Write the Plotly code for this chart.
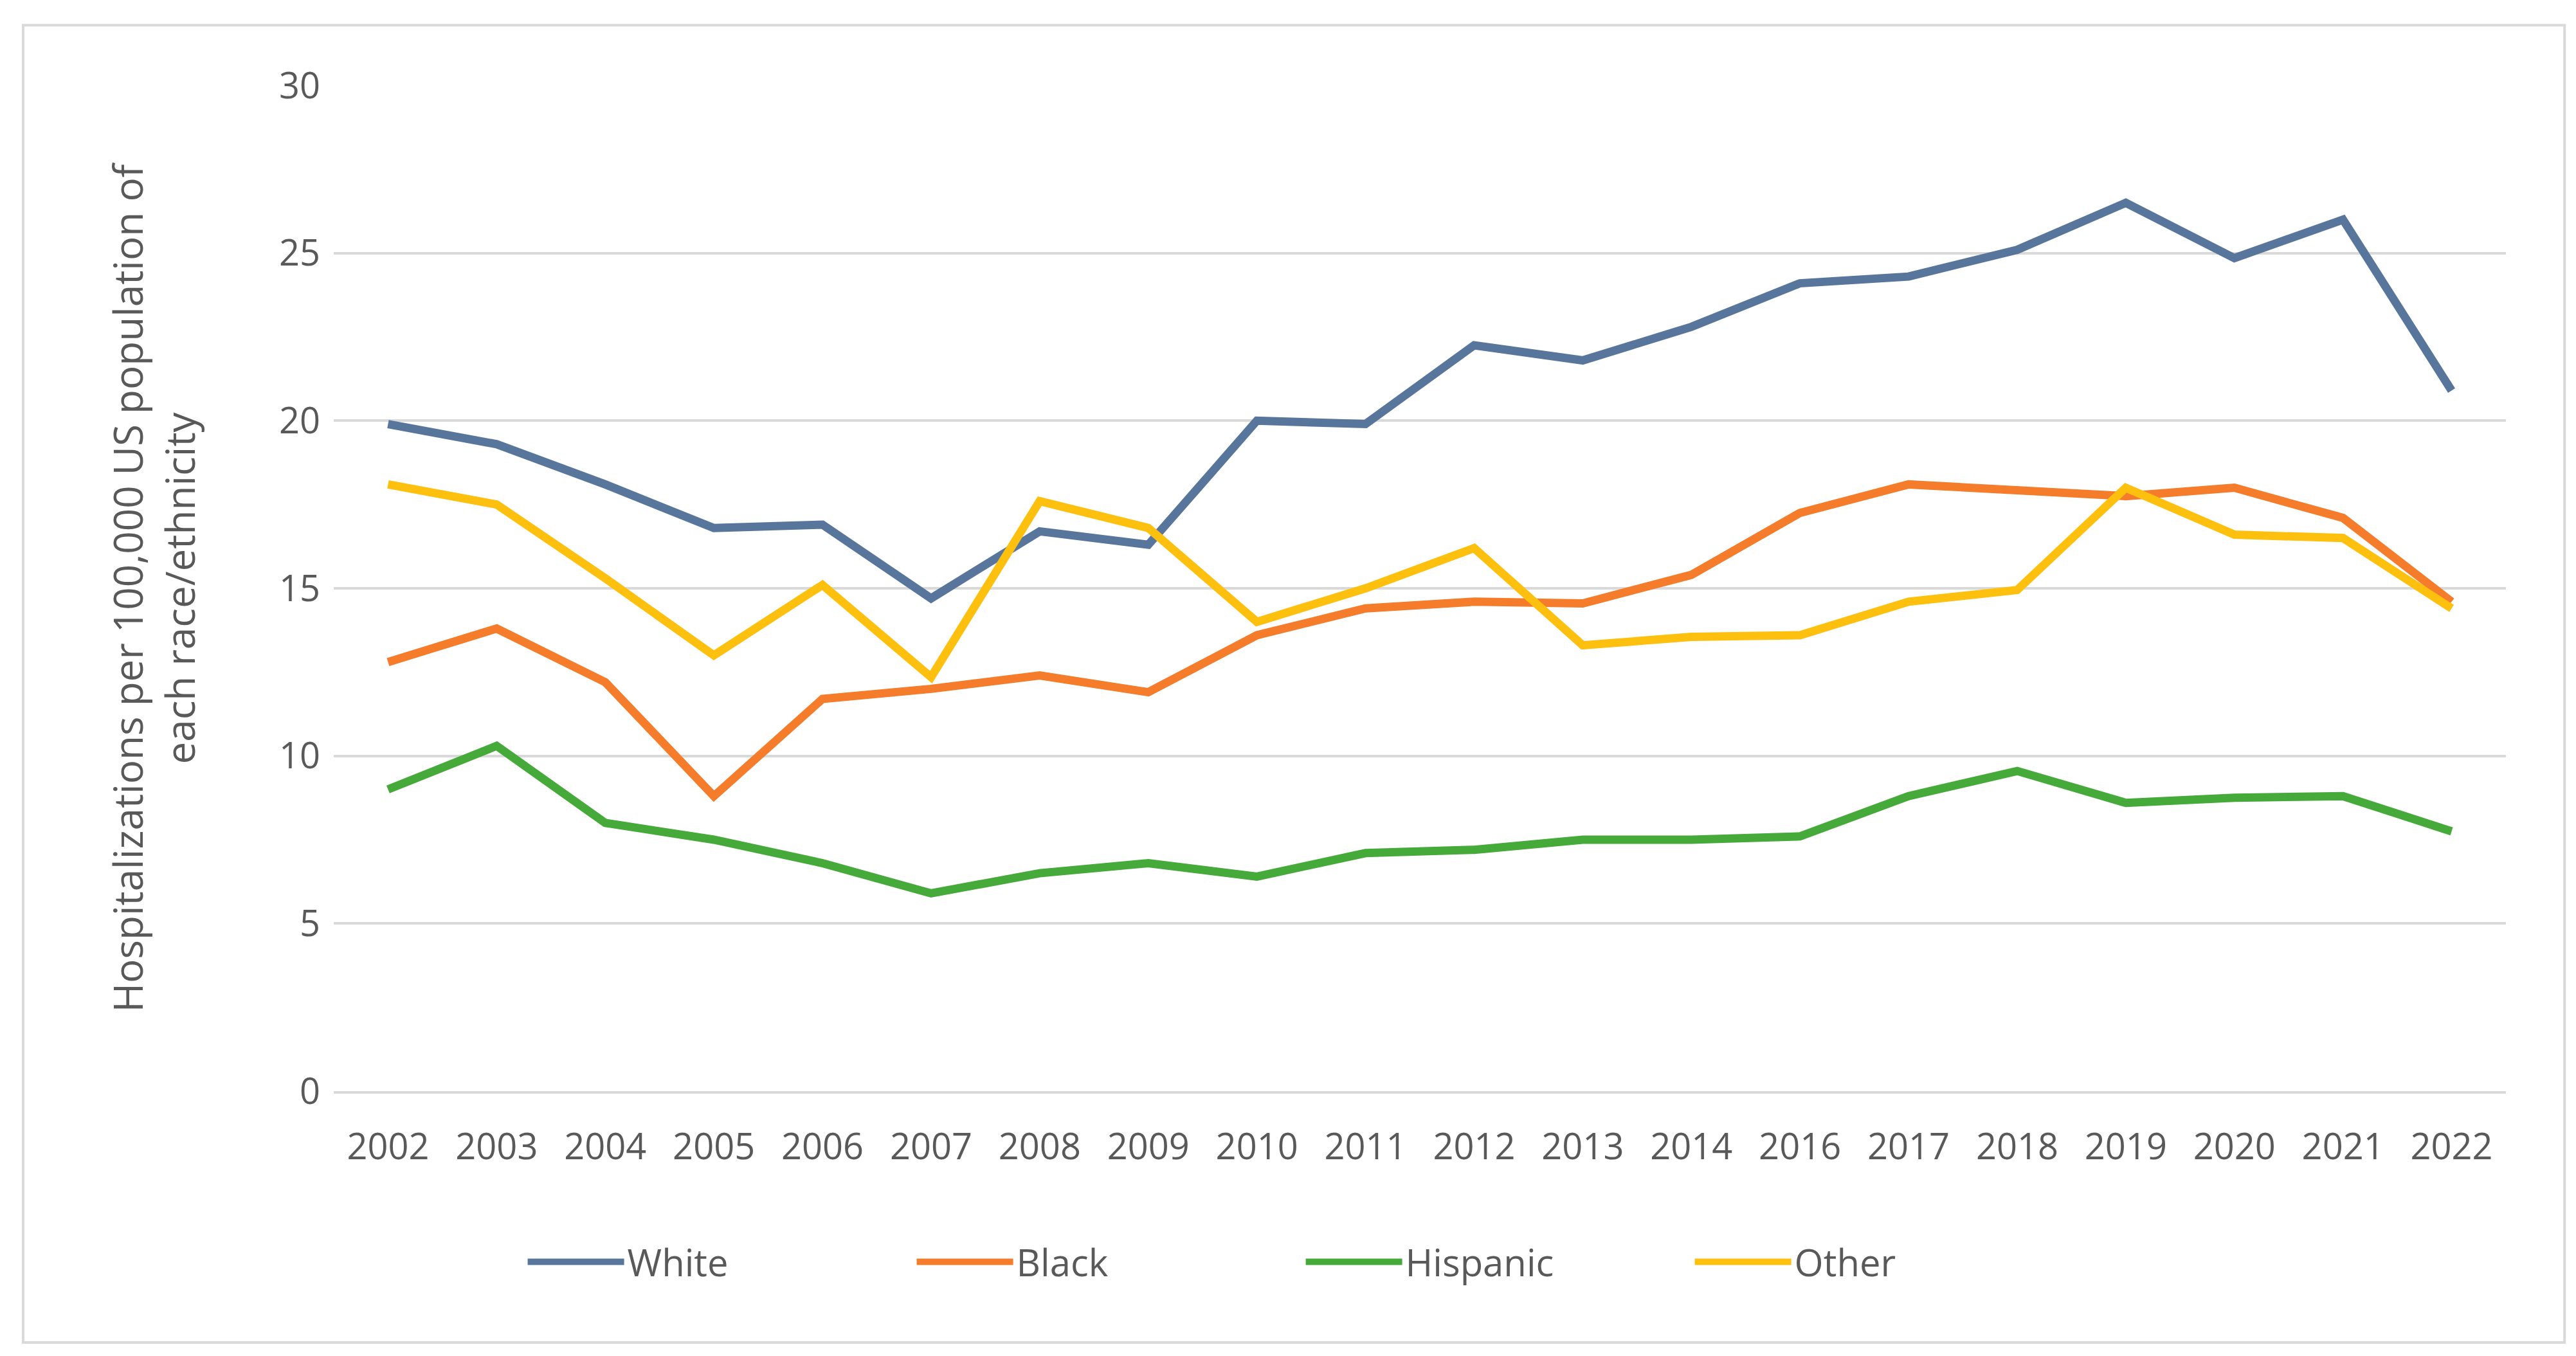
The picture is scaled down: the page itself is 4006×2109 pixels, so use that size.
import plotly.graph_objects as go

years = ["2002","2003","2004","2005","2006","2007","2008","2009","2010","2011","2012","2013","2014","2016","2017","2018","2019","2020","2021","2022"]
white = [19.9,19.3,18.1,16.8,16.9,14.7,16.7,16.3,20.0,19.9,22.25,21.8,22.8,24.1,24.3,25.1,26.5,24.85,26.0,20.9]
black = [12.8,13.8,12.2,8.8,11.7,12.0,12.4,11.9,13.6,14.4,14.6,14.55,15.4,17.25,18.1,17.9,17.75,18.0,17.1,14.6]
hispanic = [9.0,10.3,8.0,7.5,6.8,5.9,6.5,6.8,6.4,7.1,7.2,7.5,7.5,7.6,8.8,9.55,8.6,8.75,8.8,7.75]
other = [18.1,17.5,15.3,13.0,15.1,12.35,17.6,16.8,14.0,15.0,16.2,13.3,13.55,13.6,14.6,14.95,18.0,16.6,16.5,14.4]

series = [("White", white, "#58769C"), ("Black", black, "#F47C2A"),
          ("Hispanic", hispanic, "#46AA3A"), ("Other", other, "#FEC00F")]

fig = go.Figure()
for name, vals, col in series:
    fig.add_trace(go.Scatter(x=years, y=vals, name=name, mode="lines",
                             line=dict(color=col, width=13)))

grey = "#595959"
fig.update_layout(
    width=4006, height=2109, paper_bgcolor="white", plot_bgcolor="white",
    margin=dict(l=511, r=117, t=125, b=420),
    font=dict(family="Open Sans, Liberation Sans", size=56, color=grey),
    showlegend=True,
    legend=dict(orientation="h", x=0.446, xanchor="center", y=-0.17, yanchor="middle",
                font=dict(size=58, color=grey), entrywidth=440, itemwidth=150),
    xaxis=dict(type="category", range=[-0.5, 19.5], showgrid=False, showline=True,
               linecolor="#D9D9D9", linewidth=4, ticks="", ticklabelstandoff=35,
               tickfont=dict(size=56, color=grey)),
    yaxis=dict(range=[0, 30], dtick=5, showgrid=True, gridcolor="#D9D9D9", gridwidth=4,
               zeroline=False, ticks="", ticklabelstandoff=20, tickfont=dict(size=56, color=grey),
               title=dict(text="Hospitalizations per 100,000 US population of<br>each race/ethnicity",
                          font=dict(size=62, color=grey), standoff=110)),
    shapes=[dict(type="rect", xref="paper", yref="paper",
                 x0=-0.143, x1=1.027, y0=-0.25, y1=1.06,
                 line=dict(color="#D9D9D9", width=4))]
)
fig.write_html("out.html")
